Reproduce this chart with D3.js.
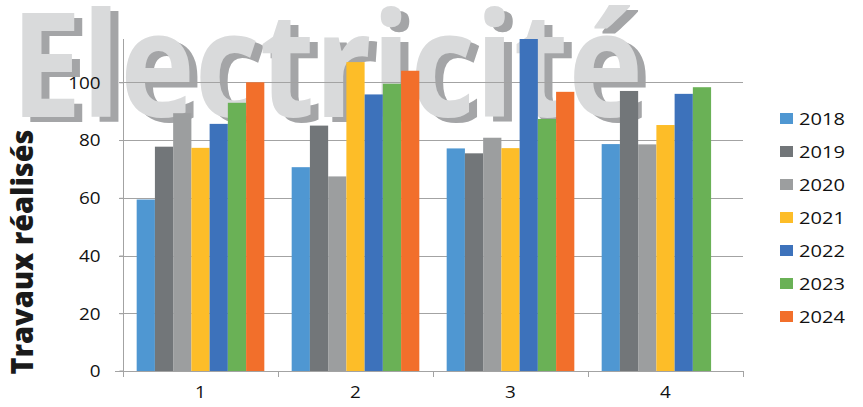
<!DOCTYPE html>
<html>
<head>
<meta charset="utf-8">
<script src="https://cdn.jsdelivr.net/npm/d3@7"></script>
<style>
  html, body { margin: 0; padding: 0; background: #fff; }
  svg { display: block; }
</style>
</head>
<body>
<svg id="chart" width="863" height="407"></svg>
<script>
// Category labels along the x axis
const categories = ["1", "2", "3", "4"];
// Series (one per year)
const years = ["2018", "2019", "2020", "2021", "2022", "2023", "2024"];
const v2018 = [59.4, 70.6, 77.1, 78.6];
const v2019 = [77.7, 85.0, 75.4, 97.0];
const v2020 = [89.3, 67.4, 80.8, 78.5];
const v2021 = [77.3, 107.0, 77.2, 85.2];
const v2022 = [85.6, 95.8, 115.0, 96.0];
const v2023 = [92.9, 99.5, 87.3, 98.3];
const v2024 = [100.0, 104.0, 96.7, null];
const seriesValues = [v2018, v2019, v2020, v2021, v2022, v2023, v2024];
const colors = ["#4f97d2", "#727679", "#9c9e9f", "#fdbd28", "#3d72bb", "#6ab156", "#f26f2b"];
// Value axis
const yTicks = [0, 20, 40, 60, 80, 100];
const yMax = 115;
const titleText = "Electricité";
const yLabel = "Travaux réalisés";

const svg = d3.select("#chart");
const plot = { left: 123, right: 743, top: 39, bottom: 371 };
const stretch = 1.18; // horizontal stretch applied to chart text

// Large background title with drop shadow
const titleG = svg.append("g");
[{ dx: 8, dy: 5, fill: "#a4a5a7" }, { dx: 0, dy: 0, fill: "#d9dadb" }].forEach(s => {
  titleG.append("text")
    .attr("x", 11 + s.dx)
    .attr("y", 117 + s.dy)
    .attr("font-family", "'Open Sans', sans-serif")
    .attr("font-weight", 700)
    .attr("font-size", 146)
    .attr("textLength", 632)
    .attr("lengthAdjust", "spacingAndGlyphs")
    .attr("fill", s.fill)
    .text(titleText);
});

const x0 = d3.scaleBand().domain(categories).range([plot.left, plot.right]).padding(0);
const x1 = d3.scaleBand().domain(years).range([0, x0.bandwidth()]).paddingInner(0).paddingOuter(0.75);
const y = d3.scaleLinear().domain([0, yMax]).range([plot.bottom, plot.top]);

// Horizontal gridlines
svg.append("g")
  .selectAll("line")
  .data(yTicks.filter(t => t > 0))
  .join("line")
  .attr("x1", plot.left - 4)
  .attr("x2", plot.right)
  .attr("y1", d => Math.round(y(d)) + 0.5)
  .attr("y2", d => Math.round(y(d)) + 0.5)
  .attr("stroke", "#a3a3a3")
  .attr("stroke-width", 1);

// Bars
const barData = [];
years.forEach((yr, si) => {
  categories.forEach((c, ci) => {
    const v = seriesValues[si][ci];
    if (v != null) barData.push({ yr, c, v, color: colors[si] });
  });
});
svg.append("g")
  .selectAll("rect")
  .data(barData)
  .join("rect")
  .attr("x", d => x0(d.c) + x1(d.yr))
  .attr("y", d => y(d.v))
  .attr("width", x1.bandwidth())
  .attr("height", d => y(0) - y(d.v))
  .attr("fill", d => d.color);

// Y axis
const yAxis = d3.axisLeft(y).tickValues(yTicks).tickSize(4).tickPadding(0).tickFormat(d3.format("d"));
const yG = svg.append("g").attr("transform", `translate(${plot.left + 0.5},0)`).call(yAxis);
yG.select(".domain").attr("d", `M-4,${plot.bottom}H0V${plot.top}`).attr("stroke", "#a3a3a3");
yG.selectAll(".tick line").attr("stroke", "#a3a3a3");
yG.selectAll(".tick text")
  .attr("x", -23 / stretch)
  .attr("dy", "0.36em")
  .attr("transform", `scale(${stretch},1)`)
  .attr("font-family", "'Open Sans', sans-serif")
  .attr("font-size", 16)
  .attr("fill", "#111");

// X axis
const xAxis = d3.axisBottom(x0).tickSize(0).tickPadding(0);
const xG = svg.append("g").attr("transform", `translate(0,${Math.round(plot.bottom) + 0.5})`).call(xAxis);
xG.select(".domain").attr("d", `M${plot.left - 8},0H${plot.right}`).attr("stroke", "#a3a3a3");
xG.selectAll(".tick text")
  .attr("x", 0)
  .attr("y", 27)
  .attr("dy", "0")
  .attr("transform", `scale(${stretch},1)`)
  .attr("font-family", "'Open Sans', sans-serif")
  .attr("font-size", 16)
  .attr("fill", "#111");
// Category separators below the axis
svg.append("g")
  .selectAll("line")
  .data(categories.concat(["end"]))
  .join("line")
  .attr("x1", d => Math.round(d === "end" ? plot.right : x0(d)) + 0.5)
  .attr("x2", d => Math.round(d === "end" ? plot.right : x0(d)) + 0.5)
  .attr("y1", plot.bottom)
  .attr("y2", plot.bottom + 6)
  .attr("stroke", "#a3a3a3");

// Y axis title
svg.append("text")
  .attr("transform", `translate(33,252) rotate(-90)`)
  .attr("text-anchor", "middle")
  .attr("font-family", "'Open Sans', sans-serif")
  .attr("font-weight", 800)
  .attr("font-size", 30)
  .attr("textLength", 245)
  .attr("lengthAdjust", "spacingAndGlyphs")
  .attr("fill", "#1a1a1a")
  .text(yLabel);

// Legend
const legend = svg.append("g")
  .selectAll("g")
  .data(years)
  .join("g")
  .attr("transform", (d, i) => `translate(780,${119 + i * 33})`);
legend.append("rect")
  .attr("x", 0).attr("y", -6)
  .attr("width", 13).attr("height", 11)
  .attr("fill", (d, i) => colors[i]);
legend.append("text")
  .attr("transform", `translate(19,0) scale(${stretch},1)`)
  .attr("dy", "0.36em")
  .attr("font-family", "'Open Sans', sans-serif")
  .attr("font-size", 17)
  .attr("fill", "#111")
  .text(d => d);
</script>
</body>
</html>
